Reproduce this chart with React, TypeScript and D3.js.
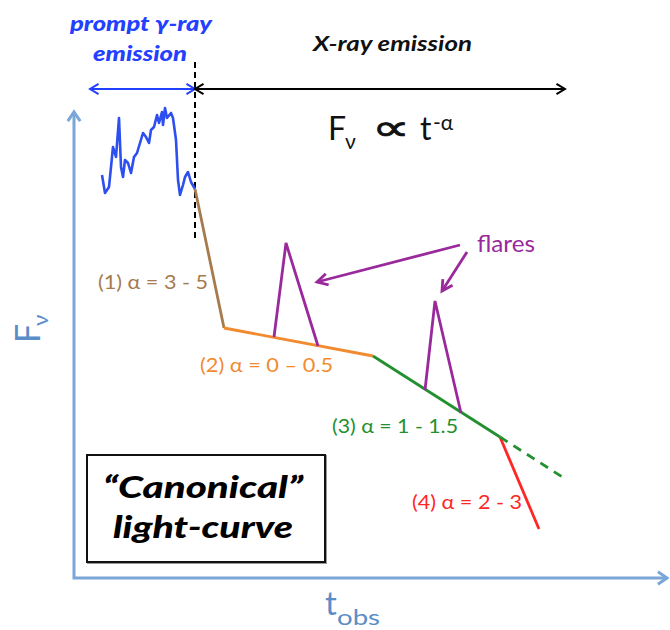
import React from "react";
import * as d3 from "d3";

const W = 670;
const H = 630;

// Schematic data in arbitrary units: t = observer time, f = log flux
const promptT = [28, 31, 35, 39, 42, 45, 47, 49, 51, 54, 57, 60, 63, 66, 69, 72, 75, 77, 80, 83, 85, 88, 89, 91, 93, 97, 99, 102, 104, 106, 109, 111, 114, 117, 121];
const promptF = [403, 385, 391, 431, 421, 460, 411, 401, 418, 415, 405, 421, 425, 435, 445, 441, 435, 448, 451, 463, 455, 466, 453, 470, 460, 465, 460, 438, 398, 383, 393, 401, 406, 396, 389];

const breakT = [121, 150, 299, 426, 465];
const breakF = [389, 250, 222, 141, 49];
const extT = [426, 493];
const extF = [141, 98];

const flare1T = [200, 212, 244];
const flare1F = [241, 335, 232];
const flare2T = [351, 361, 387];
const flare2F = [188, 277, 165];

const segLabels = ["(1) α = 3 - 5", "(2) α = 0 – 0.5", "(3) α = 1 - 1.5", "(4) α = 2 - 3"];
const segColors = ["#a67a4c", "#f28a30", "#239030", "#ff2626"];

const promptRange = [16, 121];
const xrayRange = [121, 491];
const phaseF = 489;
const boundaryF = [338, 516];

const x = d3.scaleLinear().domain([0, 594]).range([74, 668]);
const y = d3.scaleLinear().domain([0, 466]).range([578, 112]);

const line = d3
  .line<[number, number]>()
  .x((d) => x(d[0]))
  .y((d) => y(d[1]));

function zip(a: number[], b: number[]): [number, number][] {
  return a.map((v, i) => [v, b[i]]);
}

function chevron(tx: number, ty: number, fx: number, fy: number, len = 10, ang = 0.55) {
  const a = Math.atan2(fy - ty, fx - tx);
  const p1 = [tx + len * Math.cos(a + ang), ty + len * Math.sin(a + ang)];
  const p2 = [tx + len * Math.cos(a - ang), ty + len * Math.sin(a - ang)];
  return `M${p1[0]},${p1[1]}L${tx},${ty}L${p2[0]},${p2[1]}`;
}

const AXIS = "#7aa6d8";
const AXLBL = "#5b8dc8";
const BLUE = "#2340ff";
const PURPLE = "#9a2a9c";
const FONT = "Lato, 'Open Sans', 'Noto Sans', sans-serif";
const SW = 2.8;

export default function App() {
  const x0 = x(0);
  const y0 = y(0);
  const segs = [0, 1, 2, 3].map((i) => zip(breakT.slice(i, i + 2), breakF.slice(i, i + 2)));

  const pY = y(phaseF);
  const pL = x(promptRange[0]);
  const pR = x(promptRange[1]);
  const xR = x(xrayRange[1]);

  const fa1 = [460, 245, 317, 282];
  const fa2 = [467, 252, 442, 291];

  return (
    <svg width={W} height={H} style={{ display: "block", position: "absolute", left: 0, top: 0 }} fontFamily={FONT}>
      <rect width={W} height={H} fill="#fff" />

      {/* axes */}
      <path d={`M${x0},${y(466)}L${x0},${y0}L${x(593)},${y0}`} fill="none" stroke={AXIS} strokeWidth={3} />
      <path d={chevron(x0, y(466), x0, y0, 11, 0.6)} fill="none" stroke={AXIS} strokeWidth={3} />
      <path d={chevron(x(593), y0, x0, y0, 11, 0.6)} fill="none" stroke={AXIS} strokeWidth={3} />

      {/* axis labels */}
      <text x={325} y={615} fontSize={33} fill={AXLBL}>t</text>
      <text x={337} y={625} fontSize={22} fill={AXLBL} textLength={43} lengthAdjust="spacingAndGlyphs">obs</text>
      <g transform="translate(40,343) rotate(-90)">
        <text x={0} y={0} fontSize={34} fill={AXLBL}>F</text>
        <text x={17} y={8} fontSize={22} fill={AXLBL}>ν</text>
      </g>

      {/* boundary dashed line */}
      <line x1={x(121)} x2={x(121)} y1={y(boundaryF[1])} y2={y(boundaryF[0])} stroke="#000" strokeWidth={2} strokeDasharray="6,4" />

      {/* phase arrows */}
      <line x1={pL} x2={pR} y1={pY} y2={pY} stroke={BLUE} strokeWidth={2} />
      <path d={chevron(pL, pY, pR, pY)} fill="none" stroke={BLUE} strokeWidth={2} />
      <path d={chevron(pR, pY, pL, pY)} fill="none" stroke={BLUE} strokeWidth={2} />
      <line x1={pR} x2={xR} y1={pY} y2={pY} stroke="#000" strokeWidth={2} />
      <path d={chevron(pR, pY, xR, pY)} fill="none" stroke="#000" strokeWidth={2} />
      <path d={chevron(xR, pY, pR, pY)} fill="none" stroke="#000" strokeWidth={2} />

      {/* phase texts */}
      <text x={70} y={31} fontSize={20} fontWeight={900} fontStyle="italic" fill={BLUE} textLength={142} lengthAdjust="spacingAndGlyphs">prompt γ-ray</text>
      <text x={93} y={61} fontSize={20} fontWeight={900} fontStyle="italic" fill={BLUE} textLength={94} lengthAdjust="spacingAndGlyphs">emission</text>
      <text x={313} y={51} fontSize={20} fontWeight={700} fontStyle="italic" fill="#111" textLength={159} lengthAdjust="spacingAndGlyphs">X-ray emission</text>

      {/* formula */}
      <text x={328} y={140} fontSize={32} fill="#111">F</text>
      <text x={345} y={149} fontSize={21} fill="#111">ν</text>
      <text x={372} y={140} fontSize={36} fill="#111" fontFamily="'DejaVu Sans', sans-serif" textLength={38} lengthAdjust="spacingAndGlyphs" stroke="#111" strokeWidth={0.8}>∝</text>
      <text x={420} y={140} fontSize={32} fill="#111">t</text>
      <text x={433} y={130} fontSize={21} fill="#111">-α</text>

      {/* prompt emission curve */}
      <path d={line(zip(promptT, promptF)) || ""} fill="none" stroke="#2d4ff0" strokeWidth={2.6} strokeLinejoin="round" />

      {/* X-ray segments */}
      {segs.map((s, i) => (
        <path key={i} d={line(s) || ""} fill="none" stroke={segColors[i]} strokeWidth={SW} />
      ))}
      <path d={line(zip(extT, extF)) || ""} fill="none" stroke={segColors[2]} strokeWidth={SW} strokeDasharray="9,7" />

      {/* flares */}
      <path d={line(zip(flare1T, flare1F)) || ""} fill="none" stroke={PURPLE} strokeWidth={SW} />
      <path d={line(zip(flare2T, flare2F)) || ""} fill="none" stroke={PURPLE} strokeWidth={SW} />

      {/* flares annotation */}
      <text x={477} y={252} fontSize={23} fill={PURPLE} textLength={58} lengthAdjust="spacingAndGlyphs">flares</text>
      <line x1={fa1[0]} y1={fa1[1]} x2={fa1[2]} y2={fa1[3]} stroke={PURPLE} strokeWidth={SW} />
      <path d={chevron(fa1[2], fa1[3], fa1[0], fa1[1], 12, 0.5)} fill="none" stroke={PURPLE} strokeWidth={SW} />
      <line x1={fa2[0]} y1={fa2[1]} x2={fa2[2]} y2={fa2[3]} stroke={PURPLE} strokeWidth={SW} />
      <path d={chevron(fa2[2], fa2[3], fa2[0], fa2[1], 12, 0.5)} fill="none" stroke={PURPLE} strokeWidth={SW} />

      {/* segment labels */}
      <text x={98} y={289} fontSize={20} fill={segColors[0]} textLength={110} lengthAdjust="spacingAndGlyphs">{segLabels[0]}</text>
      <text x={200} y={372} fontSize={20} fill={segColors[1]} textLength={133} lengthAdjust="spacingAndGlyphs">{segLabels[1]}</text>
      <text x={332} y={433} fontSize={20} fill={segColors[2]} textLength={126} lengthAdjust="spacingAndGlyphs">{segLabels[2]}</text>
      <text x={412} y={509} fontSize={20} fill={segColors[3]} textLength={110} lengthAdjust="spacingAndGlyphs">{segLabels[3]}</text>

      {/* box */}
      <rect x={88} y={456} width={238} height={107} fill="none" stroke="#999" strokeWidth={2} />
      <rect x={87} y={455} width={238} height={107} fill="#fff" stroke="#111" strokeWidth={2} />
      <text x={103} y={498} fontSize={31} fontWeight={900} fontStyle="italic" fill="#000" textLength={200} lengthAdjust="spacingAndGlyphs">“Canonical”</text>
      <text x={113} y={538} fontSize={31} fontWeight={900} fontStyle="italic" fill="#000" textLength={180} lengthAdjust="spacingAndGlyphs">light-curve</text>
    </svg>
  );
}
